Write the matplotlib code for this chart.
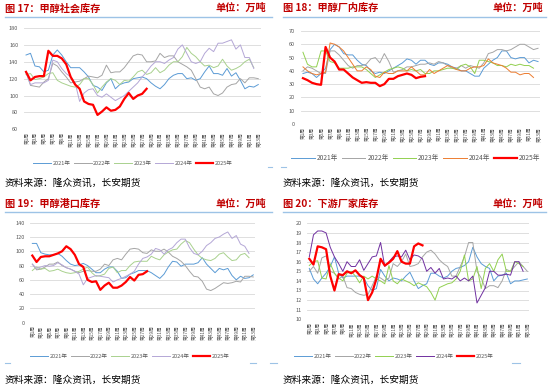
import matplotlib
matplotlib.use("Agg")
import matplotlib.pyplot as plt

plt.rcParams["font.family"] = ["Noto Sans CJK SC", "DejaVu Sans"]

# 周次标签
weeks_label = [f"第{i}周" for i in range(1, 54, 2)]
years = ["2021年", "2022年", "2023年", "2024年", "2025年"]

# 图17 甲醇社会库存
soc_2021 = [148, 150, 135, 134, 128, 130, 148, 154, 148, 140, 133, 133, 133, 128, 122, 112, 110, 106, 115, 120,
            108, 113, 115, 116, 120, 121, 122, 120, 115, 111, 108, 113, 120, 124, 126, 126, 120, 121, 118, 120,
            128, 135, 126, 126, 124, 132, 123, 127, 118, 108, 111, 110, 113]
soc_2022 = [128, 112, 111, 110, 116, 120, 138, 135, 128, 122, 115, 116, 117, 120, 123, 122, 121, 124, 136, 127,
            128, 128, 133, 140, 147, 149, 148, 140, 140, 141, 150, 145, 147, 147, 140, 137, 134, 130, 120, 110,
            108, 110, 102, 100, 103, 110, 113, 114, 120, 115, 121, 121, 120]
soc_2023 = [125, 126, 119, 120, 122, 126, 127, 118, 115, 113, 111, 110, 113, 120, 120, 113, 103, 110, 116, 120,
            118, 113, 118, 117, 122, 128, 130, 125, 127, 133, 127, 130, 136, 140, 140, 146, 157, 150, 146, 140,
            135, 136, 133, 135, 143, 135, 130, 132, 135, 140, 143, 133]
soc_2024 = [127, 113, 115, 115, 115, 118, 142, 140, 132, 126, 122, 115, 93, 103, 107, 108, 100, 98, 102, 98,
            94, 97, 100, 105, 110, 115, 122, 128, 135, 140, 140, 138, 142, 145, 155, 160, 150, 140, 138, 140,
            150, 156, 152, 162, 162, 164, 166, 155, 160, 145, 145, 132]
soc_2025 = [128, 118, 122, 123, 123, 153, 147, 147, 144, 137, 122, 113, 108, 93, 90, 89, 77, 81, 86, 82,
            83, 87, 96, 103, 96, 100, 102, 108]

# 图18 甲醇厂内库存
fac_2021 = [38, 39, 38, 35, 38, 42, 56, 60, 58, 53, 52, 52, 48, 45, 44, 40, 38, 39, 38, 40,
            42, 44, 46, 49, 48, 45, 48, 48, 45, 44, 46, 46, 45, 43, 42, 40, 40, 38, 36, 36,
            42, 45, 48, 50, 55, 55, 50, 49, 50, 50, 46, 48, 47]
fac_2022 = [40, 43, 42, 40, 38, 38, 55, 55, 52, 48, 44, 42, 44, 44, 45, 49, 50, 46, 53, 47,
            39, 40, 41, 43, 43, 44, 45, 45, 46, 45, 47, 46, 44, 42, 42, 44, 42, 44, 43, 42,
            46, 53, 54, 56, 56, 55, 56, 58, 60, 60, 58, 56, 57]
fac_2023 = [54, 45, 43, 43, 55, 55, 47, 46, 42, 42, 42, 43, 43, 43, 41, 38, 35, 37, 39, 41,
            42, 43, 42, 40, 41, 40, 41, 38, 38, 40, 40, 41, 42, 42, 41, 44, 45, 43, 38, 48,
            48, 47, 46, 44, 44, 43, 45, 44, 45, 44, 44, 42]
fac_2024 = [43, 40, 38, 37, 38, 39, 61, 60, 58, 55, 50, 45, 40, 40, 43, 41, 36, 35, 39, 38,
            38, 40, 40, 40, 43, 40, 37, 37, 41, 38, 40, 42, 44, 43, 41, 40, 40, 42, 43, 43,
            44, 49, 46, 45, 44, 42, 39, 39, 37, 38, 38, 35]
fac_2025 = [34.5, 33, 31, 30, 29.5, 58, 50, 47, 41, 41, 38, 35, 33, 31, 31.5, 31, 31, 28.5, 30, 34,
            34, 36, 37, 38, 37, 34.5, 35.5, 36]

# 图19 甲醇港口库存
port_2021 = [111, 111, 98, 96, 95, 95, 97, 93, 87, 82, 80, 81, 83, 80, 75, 70, 70, 75, 78, 78,
             72, 62, 63, 68, 70, 73, 73, 73, 70, 66, 62, 68, 78, 86, 85, 79, 82, 82, 82, 84,
             91, 82, 76, 70, 76, 74, 76, 66, 60, 65, 62, 63, 67]
port_2022 = [82, 74, 75, 78, 82, 82, 85, 80, 77, 75, 72, 70, 72, 73, 72, 72, 75, 82, 80, 88,
             90, 88, 96, 103, 104, 103, 98, 97, 102, 100, 100, 103, 99, 93, 90, 86, 80, 72, 65, 64,
             58, 47, 45, 48, 52, 56, 55, 56, 58, 57, 65, 65, 64]
port_2023 = [73, 78, 75, 76, 72, 73, 75, 72, 70, 69, 70, 72, 75, 78, 70, 65, 66, 68, 76, 78,
             70, 73, 73, 80, 85, 86, 86, 86, 93, 90, 88, 95, 99, 102, 103, 110, 115, 112, 103, 95,
             90, 88, 87, 90, 96, 98, 92, 87, 88, 95, 97, 91]
port_2024 = [82, 76, 78, 80, 79, 80, 84, 81, 77, 75, 72, 68, 53, 62, 64, 66, 65, 64, 63, 57,
             60, 62, 65, 68, 72, 82, 90, 92, 96, 104, 102, 96, 102, 105, 112, 117, 117, 105, 97, 95,
             100, 108, 112, 118, 120, 124, 127, 118, 122, 110, 107, 97]
port_2025 = [94, 85, 92, 93, 93, 95, 97, 100, 107, 103, 95, 82, 78, 60, 57, 58, 46, 52, 56, 49,
             49, 52, 57, 64, 59, 67, 68, 72]

# 图20 下游厂家库存
down_2021 = [15.3, 14.2, 13.7, 14.3, 14.8, 15.5, 16.5, 14.8, 14.3, 14.5, 14.5, 14.5, 14.5, 14.3, 13.5, 13.0,
             13.2, 15.2, 14.5, 14.0, 14.3, 14.2, 14.0, 14.5, 14.9, 14.0, 13.2, 13.5, 13.7, 14.8, 14.8, 14.5,
             14.3, 14.5, 15.0, 15.3, 15.4, 15.6, 16.0, 17.5, 16.5, 15.8, 15.5, 15.3, 14.0, 14.5, 14.6, 14.8,
             13.7, 14.0, 14.0, 14.1, 14.2]
down_2022 = [15.0, 15.5, 14.8, 16.4, 16.6, 15.0, 14.8, 14.2, 14.5, 13.3, 13.2, 12.8, 12.6, 12.5, 12.6, 13.5,
             14.5, 14.3, 14.0, 14.3, 15.8, 15.5, 16.0, 16.8, 15.5, 15.6, 15.8, 16.5, 17.0, 17.2, 16.8, 16.2,
             15.8, 15.5, 14.5, 14.5, 15.5, 16.5, 18.0, 18.0, 15.0, 14.3, 13.2, 13.5, 13.5, 13.3, 14.0, 15.2,
             15.0, 15.5, 16.0, 15.5, 15.0]
down_2023 = [15.6, 16.0, 16.1, 14.3, 14.2, 15.8, 14.8, 14.3, 14.0, 14.8, 15.0, 14.5, 13.8, 14.5, 14.2, 14.5,
             14.2, 14.0, 13.7, 15.6, 14.0, 13.7, 14.2, 14.0, 13.8, 13.5, 13.8, 13.6, 13.4, 12.8, 12.0, 13.3,
             13.5, 13.7, 13.8, 14.2, 15.0, 16.7, 14.0, 14.2, 15.5, 13.2, 15.3, 15.8, 15.0, 16.2, 16.8, 15.0,
             15.0, 16.0, 15.8, 15.5]
down_2024 = [16.5, 18.8, 19.2, 19.2, 19.0, 17.5, 16.5, 15.8, 15.0, 16.0, 15.5, 15.5, 16.2, 15.1, 15.8, 16.5,
             16.6, 18.0, 15.5, 16.0, 16.5, 16.6, 16.5, 17.2, 16.2, 16.7, 16.6, 16.3, 15.0, 15.4, 14.8, 15.3,
             14.2, 14.3, 14.2, 14.5, 14.0, 14.3, 14.0, 14.5, 11.7, 12.5, 13.3, 15.0, 15.0, 14.6, 14.6, 14.7,
             14.6, 16.0, 16.0, 15.0]
down_2025 = [16.3, 15.7, 17.6, 17.5, 17.3, 14.5, 13.0, 14.7, 14.6, 15.0, 14.8, 15.1, 14.6, 14.3, 12.0, 12.8,
             14.2, 16.3, 15.6, 15.9, 16.3, 17.1, 16.0, 15.8, 15.8, 17.6, 17.9, 17.7]

W, H = 550, 388
fig = plt.figure(figsize=(W / 100, H / 100), dpi=100)

DARKRED = "#C00000"
RULE = "#9DC3E6"


def fx(x):
    return x / W


def fy(y):
    return 1 - y / H


def panel(box, series, colors, ylim, ystep, leg_xy, leg_fs, hl):
    x0, x1, yt, yb = box
    ax = fig.add_axes([fx(x0), fy(yb), fx(x1) - fx(x0), fy(yt) - fy(yb)])
    for name, vals, c in zip(years, series, colors):
        lw = 1.6 if name == "2025年" else 0.7
        ax.plot(range(1, len(vals) + 1), vals, color=c, lw=lw, label=name,
                zorder=3 if name == "2025年" else 2)
    ax.set_xlim(0.5, 53.5)
    ax.set_ylim(*ylim)
    yt_vals = list(range(ylim[0], ylim[1] + 1, ystep))
    ax.set_yticks(yt_vals)
    ax.set_xticks(range(1, 54, 2))
    ax.set_xticklabels(weeks_label, rotation=90, fontsize=3.4, color="#595959", va="top")
    ax.tick_params(axis="y", labelsize=4, colors="#595959", length=0, pad=4)
    ax.tick_params(axis="x", length=0, pad=2)
    for s in ax.spines.values():
        s.set_visible(False)
    ax.yaxis.grid(True, color="#D9D9D9", lw=0.6)
    ax.set_axisbelow(True)
    h, l = ax.get_legend_handles_labels()
    fig.legend(h, l, loc="center", bbox_to_anchor=(fx(leg_xy[0]), fy(leg_xy[1])), ncol=5,
               frameon=False, fontsize=leg_fs, handlelength=hl, columnspacing=0.6,
               handletextpad=0.3, labelcolor="#595959")
    return ax


panel((23.8, 260.5, 28, 129.3), [soc_2021, soc_2022, soc_2023, soc_2024, soc_2025],
      ["#5B9BD5", "#A5A5A5", "#A9D18E", "#B4A7D6", "#FF0000"], (60, 180), 20, (133, 163), 4, 3.2)
panel((300.7, 540.3, 31, 124), [fac_2021, fac_2022, fac_2023, fac_2024, fac_2025],
      ["#5B9BD5", "#A5A5A5", "#92D050", "#ED7D31", "#FF0000"], (0, 70), 10, (416, 158), 4.8, 3.5)
panel((30.2, 255.4, 222.7, 322.7), [port_2021, port_2022, port_2023, port_2024, port_2025],
      ["#5B9BD5", "#A5A5A5", "#A9D18E", "#B4A7D6", "#FF0000"], (0, 140), 20, (130, 356), 4, 3.2)
panel((307.2, 529.4, 223.3, 319.3), [down_2021, down_2022, down_2023, down_2024, down_2025],
      ["#5B9BD5", "#A5A5A5", "#92D050", "#7030A0", "#FF0000"], (10, 20), 1, (394, 356), 4, 3.2)

# 标题、单位、分隔线、资料来源
heads = [("图 17：甲醇社会库存", 5, 266, 8, 16.5, 5, 272),
         ("图 18：甲醇厂内库存", 283, 543, 8, 16.5, 283, 546),
         ("图 19：甲醇港口库存", 5, 266, 204, 212, 5, 272),
         ("图 20：下游厂家库存", 283, 543, 204, 212, 283, 546)]
for title, xl, xr, yc, yr, r0, r1 in heads:
    fig.text(fx(xl), fy(yc), title, color=DARKRED, fontsize=7.3, fontweight="bold", va="center")
    fig.text(fx(xr), fy(yc), "单位：万吨", color=DARKRED, fontsize=7.3, fontweight="bold",
             va="center", ha="right")
    fig.add_artist(plt.Line2D([fx(r0), fx(r1)], [fy(yr), fy(yr)], color=RULE, lw=1))

for xs, ys in [(5, 183), (283, 183), (5, 380), (283, 380)]:
    fig.text(fx(xs), fy(ys), "资料来源：隆众资讯，长安期货", fontsize=7, color="black", va="center")

# 底部小标记
for a, b, y in [(268, 272, 167), (281, 286, 167), (5, 10, 363), (250, 256, 363),
                (270, 277, 363), (512, 520, 363)]:
    fig.add_artist(plt.Line2D([fx(a), fx(b)], [fy(y), fy(y)], color=RULE, lw=0.8))

fig.savefig("out.png", dpi=100)
